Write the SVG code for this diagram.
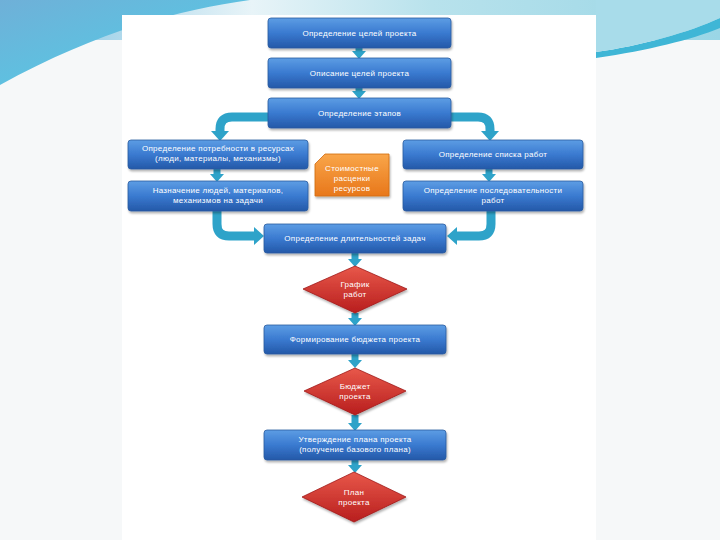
<svg xmlns="http://www.w3.org/2000/svg" width="720" height="540" viewBox="0 0 720 540">
<defs>
<linearGradient id="gBlue" x1="0" y1="0" x2="0" y2="1">
<stop offset="0" stop-color="#5d9de4"/>
<stop offset="0.5" stop-color="#3a7ad0"/>
<stop offset="1" stop-color="#2458a8"/>
</linearGradient>
<linearGradient id="gRed" x1="0" y1="0" x2="0" y2="1">
<stop offset="0" stop-color="#e8584a"/>
<stop offset="1" stop-color="#b81e1e"/>
</linearGradient>
<linearGradient id="gOrange" x1="0" y1="0" x2="0" y2="1">
<stop offset="0" stop-color="#f9a64a"/>
<stop offset="1" stop-color="#e8771a"/>
</linearGradient>
<linearGradient id="gSwL" x1="0" y1="0" x2="1" y2="1">
<stop offset="0" stop-color="#6fb0d8"/>
<stop offset="1" stop-color="#4fd0e8"/>
</linearGradient>
<linearGradient id="gTop" x1="0" y1="0" x2="1" y2="0">
<stop offset="0" stop-color="#7cc0e0"/>
<stop offset="0.35" stop-color="#e8f4f8"/>
<stop offset="0.6" stop-color="#b8e2ec"/>
<stop offset="1" stop-color="#9ad6e6"/>
</linearGradient>
<marker id="headS" markerUnits="userSpaceOnUse" markerWidth="8" markerHeight="14" viewBox="0 0 8 14" refX="0" refY="7" orient="auto">
<path d="M0,0 L8,7 L0,14 Z" fill="#2ea3c9"/>
</marker>
<marker id="headL" markerUnits="userSpaceOnUse" markerWidth="10" markerHeight="18" viewBox="0 0 10 18" refX="0" refY="9" orient="auto">
<path d="M0,0 L10,9 L0,18 Z" fill="#2ea3c9"/>
</marker>
<filter id="sh" x="-10%" y="-20%" width="120%" height="150%">
<feDropShadow dx="1" dy="2" stdDeviation="1.2" flood-color="#000" flood-opacity="0.3"/>
</filter>
</defs>
<style>
.box{fill:url(#gBlue);stroke:#2a5c9e;stroke-width:0.8;filter:url(#sh)}
.dia{fill:url(#gRed);stroke:#a01818;stroke-width:0.8;filter:url(#sh)}
.org{fill:url(#gOrange);stroke:#d06a10;stroke-width:0.8;filter:url(#sh)}
.t{font-family:"Liberation Sans",Arial,sans-serif;font-size:8px;fill:#ffffff;text-anchor:middle;letter-spacing:0.3px}
.cs{fill:none;stroke:#2ea3c9;stroke-width:7;marker-end:url(#headS)}
.cl{fill:none;stroke:#2ea3c9;stroke-width:9;marker-end:url(#headL)}
</style>
<rect x="0" y="0" width="720" height="540" fill="#f6f8f9"/>
<rect x="0" y="0" width="720" height="40" fill="url(#gTop)"/>
<path d="M0,0 H250 C180,10 100,30 0,85 Z" fill="url(#gSwL)"/>
<path d="M596,52 C640,46 690,32 720,18 V28 C690,40 650,50 596,58 Z" fill="#3fb6d6"/>
<path d="M596,0 H720 V18 C690,32 640,46 596,52 Z" fill="#a8dcea"/>
<rect x="122" y="15" width="474" height="525" fill="#ffffff"/>

<g id="connectors">
<path class="cs" d="M359,48 V51"/>
<path class="cs" d="M359,88 V91"/>
<path class="cl" d="M268,117 H232 Q220,117 220,129 V131"/>
<path class="cl" d="M451,117 H478 Q490,117 490,129 V131"/>
<path class="cs" d="M217,169 V174"/>
<path class="cs" d="M489,169 V174"/>
<path class="cl" d="M217,211 V224 Q217,236 229,236 H254"/>
<path class="cl" d="M491,211 V224 Q491,236 479,236 H457"/>
<path class="cs" d="M355,253 V259"/>
<path class="cs" d="M355,313 V318"/>
<path class="cs" d="M355,354 V360"/>
<path class="cs" d="M355,415 V423"/>
<path class="cs" d="M355,460 V465"/>
</g>

<g id="n1"><rect class="box" x="268" y="18" width="183" height="30" rx="3"/><text class="t" x="359.5" y="36">Определение целей проекта</text></g>
<g id="n2"><rect class="box" x="268" y="58" width="183" height="30" rx="3"/><text class="t" x="359.5" y="76">Описание целей проекта</text></g>
<g id="n3"><rect class="box" x="268" y="98" width="183" height="30" rx="3"/><text class="t" x="359.5" y="116">Определение этапов</text></g>
<g id="n4"><rect class="box" x="128" y="140" width="180" height="29" rx="3"/><text class="t" x="218" y="151">Определение потребности в ресурсах</text><text class="t" x="218" y="161">(люди, материалы, механизмы)</text></g>
<g id="n5"><rect class="box" x="128" y="181" width="180" height="30" rx="3"/><text class="t" x="218" y="193">Назначение людей, материалов,</text><text class="t" x="218" y="203">механизмов на задачи</text></g>
<g id="n6"><path class="org" d="M325,154 H389 V196 H315 V164 Z"/><text class="t" x="352" y="171">Стоимостные</text><text class="t" x="352" y="181">расценки</text><text class="t" x="352" y="191">ресурсов</text></g>
<g id="n7"><rect class="box" x="403" y="140" width="180" height="29" rx="3"/><text class="t" x="493" y="157">Определение списка работ</text></g>
<g id="n8"><rect class="box" x="403" y="181" width="180" height="30" rx="3"/><text class="t" x="493" y="193">Определение последовательности</text><text class="t" x="493" y="203">работ</text></g>
<g id="n9"><rect class="box" x="264" y="224" width="182" height="29" rx="3"/><text class="t" x="355" y="241">Определение длительностей задач</text></g>
<g id="n10"><polygon class="dia" points="355,266 407,289 355,313 303,289"/><text class="t" x="355" y="287">График</text><text class="t" x="355" y="297">работ</text></g>
<g id="n11"><rect class="box" x="264" y="325" width="182" height="29" rx="3"/><text class="t" x="355" y="342">Формирование бюджета проекта</text></g>
<g id="n12"><polygon class="dia" points="355,368 406,391 355,415 304,391"/><text class="t" x="355" y="389">Бюджет</text><text class="t" x="355" y="399">проекта</text></g>
<g id="n13"><rect class="box" x="264" y="430" width="182" height="30" rx="3"/><text class="t" x="355" y="442">Утверждение плана проекта</text><text class="t" x="355" y="452">(получение базового плана)</text></g>
<g id="n14"><polygon class="dia" points="354,472 406,497 354,522 302,497"/><text class="t" x="354" y="495">План</text><text class="t" x="354" y="505">проекта</text></g>
</svg>
